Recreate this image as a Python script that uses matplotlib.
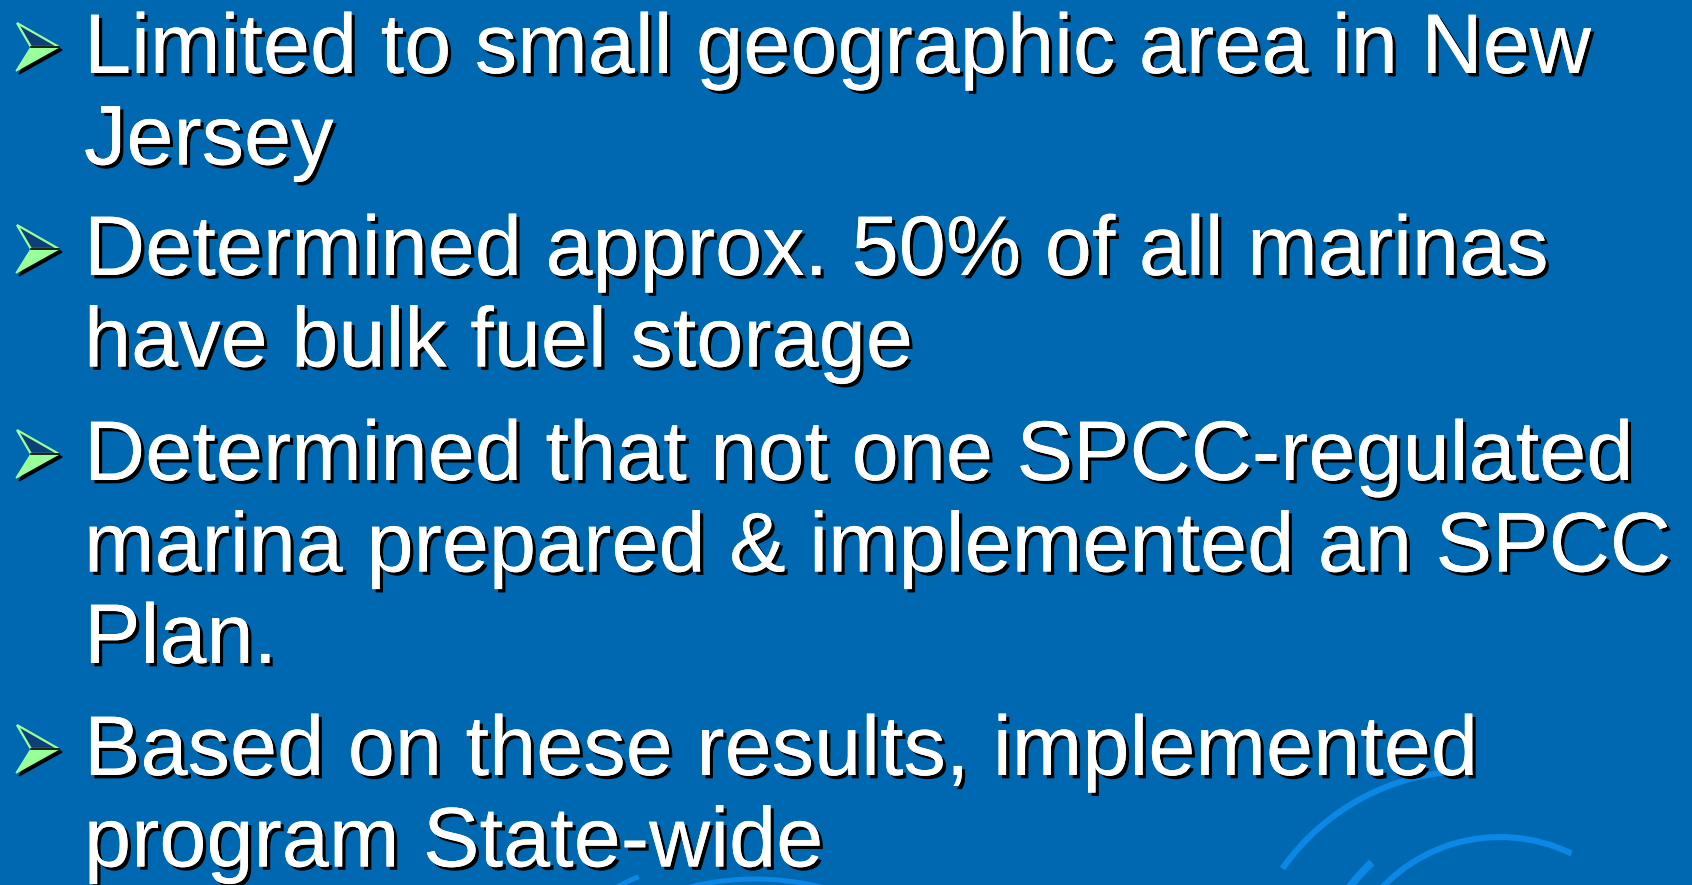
import matplotlib
matplotlib.use("Agg")
import matplotlib.pyplot as plt
import matplotlib.patheffects as pe
from matplotlib.patches import Polygon, Arc

# slide content
bullets = [
    ["Limited to small geographic area in New", "Jersey"],
    ["Determined approx. 50% of all marinas", "have bulk fuel storage"],
    ["Determined that not one SPCC-regulated", "marina prepared & implemented an SPCC", "Plan."],
    ["Based on these results, implemented", "program State-wide"],
]
bullet_top = [73, 275, 480, 775]   # baseline of first line of each bullet (px)
line_gap = 91.5

bg = "#0067B1"
arc_col = "#0B87E6"

W, H = 1692, 885
fig = plt.figure(figsize=(W / 100, H / 100), dpi=100)
fig.patch.set_facecolor(bg)
ax = fig.add_axes([0, 0, 1, 1])
ax.set_xlim(0, W)
ax.set_ylim(H, 0)
ax.axis("off")
ax.set_facecolor(bg)

# decorative arcs bottom right / bottom
arcs = [
    # (cx, cy, r, theta1, theta2, lw)
    (1470, 1000, 229, 215, 270, 4.4),
    (1500, 1000, 163, 210, 296, 4.4),
    (1500, 1000, 188, 212, 227, 5.6),
    (755, 1151, 272, 252, 285, 3.6),
    (755, 1151, 298, 240, 247, 3.6),
]
for cx, cy, r, t1, t2, lw in arcs:
    ax.add_patch(Arc((cx, cy), 2 * r, 2 * r, theta1=t1, theta2=t2,
                     color=arc_col, lw=lw, zorder=1))

shadow = [pe.withSimplePatchShadow(offset=(2.4, -2.4), shadow_rgbFace="black", alpha=1.0),
          pe.Normal()]


def arrow(b):
    top = (17, b - 50)
    tip = (59, b - 26)
    bot = (16, b - 2)
    notch = (31, b - 26)
    sh = [(x + 3, y + 3) for x, y in (top, tip, bot, notch)]
    ax.add_patch(Polygon(sh, closed=True, fc="black", ec="black", lw=1, zorder=2))
    ax.add_patch(Polygon([top, tip, notch], closed=True, fc="#0E3F78",
                         ec="#99FF99", lw=1.6, zorder=3))
    ax.add_patch(Polygon([notch, tip, bot], closed=True, fc="#99FF99",
                         ec="#99FF99", lw=1, zorder=3))
    ax.plot([notch[0], tip[0]], [notch[1], tip[1]], color="black", lw=1.2, zorder=4)


for lines, b in zip(bullets, bullet_top):
    arrow(b)
    for i, s in enumerate(lines):
        ax.text(84, b + i * line_gap, s, fontsize=61, color="white",
                family=["Liberation Sans", "DejaVu Sans"], va="baseline", ha="left",
                path_effects=shadow, zorder=5)

fig.savefig("out.png", dpi=100, facecolor=bg)
